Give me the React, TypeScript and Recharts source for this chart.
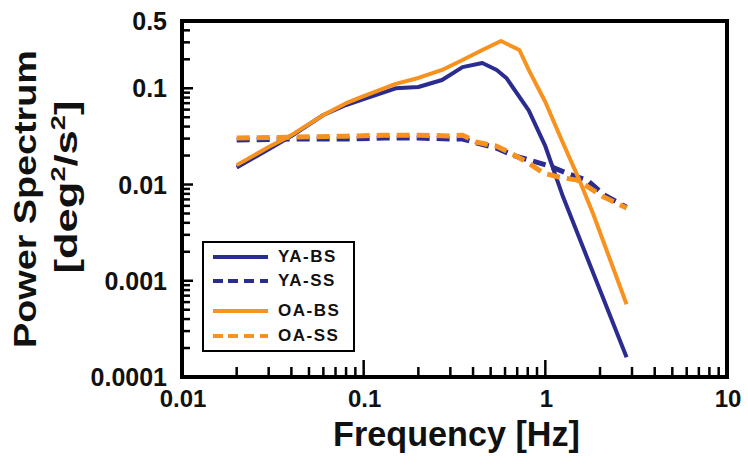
import React from 'react';
import { LineChart, Line, XAxis, YAxis, Legend, Label } from 'recharts';

// ---------- data ----------
const YA_BS_F = [0.02, 0.03, 0.04, 0.06, 0.08, 0.1, 0.15, 0.2, 0.27, 0.35, 0.45, 0.54, 0.61, 0.81, 1.0, 1.25, 2.8];
const YA_BS_P = [0.015, 0.0233, 0.0319, 0.0527, 0.067, 0.077, 0.1, 0.103, 0.122, 0.166, 0.183, 0.155, 0.128, 0.059, 0.025, 0.0075, 0.00016];

const YA_SS_F = [0.02, 0.04, 0.08, 0.13, 0.2, 0.3, 0.35, 0.42, 0.54, 0.66, 0.81, 1.05, 1.35, 1.7, 2.1, 2.8];
const YA_SS_P = [0.029, 0.0297, 0.0297, 0.0304, 0.0304, 0.0297, 0.0297, 0.027, 0.0239, 0.0202, 0.018, 0.0156, 0.0128, 0.0111, 0.0078, 0.0058];

const OA_BS_F = [0.02, 0.03, 0.04, 0.06, 0.08, 0.1, 0.15, 0.2, 0.27, 0.35, 0.45, 0.57, 0.72, 0.81, 1.0, 1.23, 1.54, 1.83, 2.8];
const OA_BS_P = [0.0159, 0.0245, 0.0326, 0.0527, 0.07, 0.083, 0.111, 0.128, 0.155, 0.197, 0.25, 0.31, 0.25, 0.155, 0.072, 0.029, 0.0111, 0.005, 0.00057];

const OA_SS_F = [0.02, 0.04, 0.08, 0.13, 0.2, 0.3, 0.35, 0.42, 0.54, 0.66, 0.81, 0.98, 1.2, 1.5, 2.1, 2.8];
const OA_SS_P = [0.0304, 0.031, 0.0318, 0.0325, 0.0325, 0.032, 0.0325, 0.0275, 0.025, 0.0207, 0.0167, 0.0131, 0.0119, 0.0111, 0.0074, 0.0057];

const X_TICKS = [0.01, 0.02, 0.03, 0.04, 0.05, 0.06, 0.07, 0.08, 0.09, 0.1, 0.2, 0.3, 0.4, 0.5, 0.6, 0.7, 0.8, 0.9, 1, 2, 3, 4, 5, 6, 7, 8, 9, 10];
const X_MAJOR = [0.01, 0.1, 1, 10];
const X_MAJOR_LABELS = ['0.01', '0.1', '1', '10'];

const Y_TICKS = [0.0001, 0.0002, 0.0003, 0.0004, 0.0005, 0.0006, 0.0007, 0.0008, 0.0009,
  0.001, 0.002, 0.003, 0.004, 0.005, 0.006, 0.007, 0.008, 0.009,
  0.01, 0.02, 0.03, 0.04, 0.05, 0.06, 0.07, 0.08, 0.09,
  0.1, 0.2, 0.3, 0.4, 0.5];
const Y_MAJOR = [0.0001, 0.001, 0.01, 0.1, 0.5];
const Y_MAJOR_LABELS = ['0.0001', '0.001', '0.01', '0.1', '0.5'];

const X_DOMAIN = [0.01, 10];
const Y_DOMAIN = [0.0001, 0.5];

const SERIES_NAMES = ['YA-BS', 'YA-SS', 'OA-BS', 'OA-SS'];

// ---------- styling / layout ----------
const BLUE = '#2b2c8f';
const ORANGE = '#f7921e';
const FONT = '"Liberation Sans", Arial, Helvetica, sans-serif';
const W = 748;
const H = 466;
const MARGIN = { top: 20, right: 20, bottom: 0, left: 0 };
const Y_AXIS_W = 182;
const X_AXIS_H = 89;
const PLOT = { left: MARGIN.left + Y_AXIS_W, right: W - MARGIN.right - 1, top: MARGIN.top + 1, bottom: H - X_AXIS_H };

const toPoints = (f: number[], p: number[]) => f.map((x, i) => ({ f: x, p: p[i] }));

const SERIES = [
  { name: SERIES_NAMES[0], data: toPoints(YA_BS_F, YA_BS_P), color: BLUE, dash: undefined as string | undefined, width: 4 },
  { name: SERIES_NAMES[1], data: toPoints(YA_SS_F, YA_SS_P), color: BLUE, dash: '13 7', width: 5 },
  { name: SERIES_NAMES[2], data: toPoints(OA_BS_F, OA_BS_P), color: ORANGE, dash: undefined as string | undefined, width: 4 },
  { name: SERIES_NAMES[3], data: toPoints(OA_SS_F, OA_SS_P), color: ORANGE, dash: '13 7', width: 5 },
];

const LEGEND_Y = [14, 38, 68, 93];

// log mapping used only for the frame / tick-mark overlay
const lx = (v: number) =>
  PLOT.left + ((Math.log10(v) - Math.log10(X_DOMAIN[0])) / (Math.log10(X_DOMAIN[1]) - Math.log10(X_DOMAIN[0]))) * (PLOT.right - PLOT.left);
const ly = (v: number) =>
  PLOT.bottom - ((Math.log10(v) - Math.log10(Y_DOMAIN[0])) / (Math.log10(Y_DOMAIN[1]) - Math.log10(Y_DOMAIN[0]))) * (PLOT.bottom - PLOT.top);

const XTick = (props: any) => {
  const { x, y, payload } = props;
  const idx = X_MAJOR.indexOf(payload.value);
  if (idx < 0) return <g />;
  return (
    <text x={x + 1} y={y + 30} textAnchor="middle" fontSize={24} fontWeight="bold" fontFamily={FONT} fill="#111">
      {X_MAJOR_LABELS[idx]}
    </text>
  );
};

const YTick = (props: any) => {
  const { x, y, payload } = props;
  const idx = Y_MAJOR.indexOf(payload.value);
  if (idx < 0) return <g />;
  return (
    <text x={x - 15} y={y} dy="0.36em" textAnchor="end" fontSize={25} fontWeight="bold" fontFamily={FONT} fill="#111">
      {Y_MAJOR_LABELS[idx]}
    </text>
  );
};

const XTitle = (props: any) => {
  const vb = props.viewBox || { x: 182, y: 377, width: 545, height: 89 };
  const cx = vb.x + vb.width / 2 + 2;
  const by = vb.y + 69;
  return (
    <text transform={`translate(${cx},${by}) scale(0.977,1)`} x={0} y={0} textAnchor="middle" fontSize={35}
      fontWeight="bold" fontFamily={FONT} fill="#111">
      Frequency [Hz]
    </text>
  );
};

const YTitle = (props: any) => {
  const vb = props.viewBox || { x: 0, y: 21, width: 182, height: 356 };
  const cy = vb.y + vb.height / 2;
  const x1 = vb.x + 36;
  const x2 = vb.x + 77;
  const cy2 = cy - 12;
  return (
    <g fontFamily={FONT} fontWeight="bold" fill="#111">
      <text transform={`translate(${x1},${cy}) rotate(-90) scale(1.18,1)`} x={0} y={0} textAnchor="middle" fontSize={32}>
        Power Spectrum
      </text>
      <text transform={`translate(${x2},${cy2}) rotate(-90) scale(1.36,1)`} x={0} y={0} textAnchor="middle" fontSize={32}>
        <tspan>[deg</tspan>
        <tspan dy={-12} fontSize={20}>2</tspan>
        <tspan dy={12}>/s</tspan>
        <tspan dy={-12} fontSize={20}>2</tspan>
        <tspan dy={12}>]</tspan>
      </text>
    </g>
  );
};

const renderLegend = () => (
  <div style={{ position: 'relative', width: 153, height: 111, border: '2px solid #000', boxSizing: 'border-box', background: '#fff' }}>
    {SERIES.map((s, i) => (
      <React.Fragment key={s.name}>
        <div style={{
          position: 'absolute', left: 9, top: LEGEND_Y[i] - 2, width: 55, height: 3.5,
          background: s.dash
            ? `repeating-linear-gradient(to right, ${s.color} 0px, ${s.color} 10px, transparent 10px, transparent 15.5px)`
            : s.color,
        }} />
        <div style={{
          position: 'absolute', left: 74, top: LEGEND_Y[i] - 10, fontSize: 17, lineHeight: '20px', fontWeight: 'bold',
          fontFamily: FONT, color: '#111', letterSpacing: 1.5, whiteSpace: 'nowrap',
        }}>
          {s.name}
        </div>
      </React.Fragment>
    ))}
  </div>
);

// frame and inward tick marks
const FrameOverlay = () => (
  <svg width={W} height={H} style={{ position: 'absolute', left: 0, top: 0, pointerEvents: 'none' }}>
    <rect x={PLOT.left} y={PLOT.top} width={PLOT.right - PLOT.left} height={PLOT.bottom - PLOT.top}
      fill="none" stroke="#000" strokeWidth={4} />
    {X_TICKS.map((v) => {
      const major = X_MAJOR.indexOf(v) >= 0;
      const x = lx(v);
      return <line key={`x${v}`} x1={x} x2={x} y1={PLOT.bottom} y2={PLOT.bottom - (major ? 17 : 10)} stroke="#000" strokeWidth={2.5} />;
    })}
    {Y_TICKS.map((v) => {
      const major = Y_MAJOR.indexOf(v) >= 0;
      const y = ly(v);
      return <line key={`y${v}`} x1={PLOT.left} x2={PLOT.left + (major ? 11 : 8)} y1={y} y2={y} stroke="#000" strokeWidth={2.5} />;
    })}
  </svg>
);

export default function App() {
  return (
    <div style={{ position: 'absolute', left: 0, top: 0, width: W, height: H }}>
      <LineChart width={W} height={H} margin={MARGIN}>
        <XAxis xAxisId={0} dataKey="f" type="number" scale="log" domain={X_DOMAIN} ticks={X_TICKS} interval={0}
          allowDataOverflow height={X_AXIS_H} tickSize={-10} tickMargin={10} tickLine={false} axisLine={false}
          tick={<XTick />}>
          <Label content={<XTitle />} />
        </XAxis>
        <XAxis xAxisId="top" orientation="top" type="number" scale="log" domain={X_DOMAIN} ticks={[0.01, 10]}
          allowDataOverflow height={1} tick={false} tickLine={false} axisLine={false} />
        <YAxis yAxisId={0} dataKey="p" type="number" scale="log" domain={Y_DOMAIN} ticks={Y_TICKS} interval={0}
          allowDataOverflow width={Y_AXIS_W} tickSize={-8} tickMargin={8} tickLine={false} axisLine={false}
          tick={<YTick />}>
          <Label content={<YTitle />} />
        </YAxis>
        <YAxis yAxisId="right" orientation="right" type="number" scale="log" domain={Y_DOMAIN} ticks={[0.0001, 0.5]}
          allowDataOverflow width={1} tick={false} tickLine={false} axisLine={false} />
        {SERIES.map((s) => (
          <Line key={s.name} name={s.name} data={s.data} dataKey="p" xAxisId={0} yAxisId={0} type="linear" stroke={s.color}
            strokeWidth={s.width} strokeDasharray={s.dash} dot={false} activeDot={false}
            strokeLinejoin="round" isAnimationActive={false} />
        ))}
        <Legend content={renderLegend} layout="vertical" align="center" verticalAlign="middle"
          wrapperStyle={{ position: 'absolute', left: 202, top: 241, width: 153, height: 111 }} />
      </LineChart>
      <FrameOverlay />
    </div>
  );
}
